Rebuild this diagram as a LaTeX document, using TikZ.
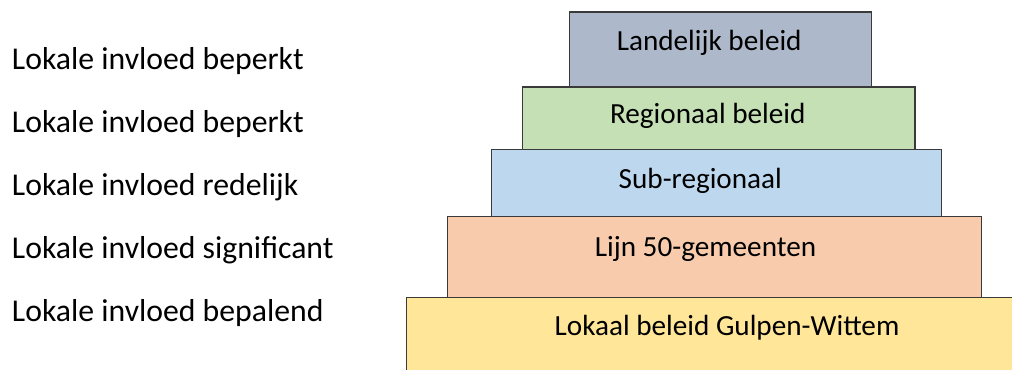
\documentclass[tikz,border=0pt]{standalone}
\usepackage{fontspec}
\setmainfont{Carlito}
\usepackage{xcolor}
\definecolor{landelijk}{HTML}{ADB9CA}
\definecolor{regionaal}{HTML}{C5E0B4}
\definecolor{subregio}{HTML}{BDD7EE}
\definecolor{lijnvijftig}{HTML}{F8CBAD}
\definecolor{lokaal}{HTML}{FFE699}
\definecolor{randlijn}{HTML}{3A3A3A}
\tikzset{
  tierline/.style={draw=randlijn, line width=0.8pt},
  tiertext/.style={anchor=base, inner sep=0pt, font=\fontsize{21.9pt}{26pt}\selectfont},
  infltext/.style={anchor=base west, inner sep=0pt, font=\fontsize{23.8pt}{28pt}\selectfont}
}
\newcommand{\tierbox}[9]{ % one layer of the pyramid
  \def\boxleft{#2}
  \def\boxtop{#3}
  \def\boxright{#4}
  \def\boxbottom{#5}
  \draw[tierline, fill=#6] (\boxleft, \boxtop) rectangle (\boxright, \boxbottom);
  \node[tiertext] (#1) at (#7, #8) {#9};
}

\begin{document}
\begin{tikzpicture}[x=0.75pt, y=-0.75pt]
\clip (0, 0) rectangle (1012, 369);

\tierbox{lokaal}{406.3}{297.3}{1047.7}{400}{lokaal}{727}{335.7}{Lokaal beleid Gulpen-Wittem}
\tierbox{lijn}{447.3}{216.7}{981.3}{297.3}{lijnvijftig}{705.5}{256.7}{Lijn 50-gemeenten}
\tierbox{sub}{491.3}{149.7}{941.7}{216.7}{subregio}{700.3}{188.3}{Sub-regionaal}
\tierbox{regio}{522.7}{87}{915}{149.7}{regionaal}{707.8}{123.3}{Regionaal beleid}
\tierbox{land}{569.3}{12}{871.7}{87}{landelijk}{709.2}{50}{Landelijk beleid}

%\node[infltext] ... left column
\node[infltext] (invloed1) at (11.7, 69) {Lokale invloed beperkt};
\node[infltext] (invloed2) at (11.7, 132) {Lokale invloed beperkt};
\node[infltext] (invloed3) at (11.7, 195) {Lokale invloed redelijk};
\node[infltext] (invloed4) at (11.7, 258) {Lokale invloed significant};
\node[infltext] (invloed5) at (11.7, 321) {Lokale invloed bepalend};

\end{tikzpicture}
\end{document}
